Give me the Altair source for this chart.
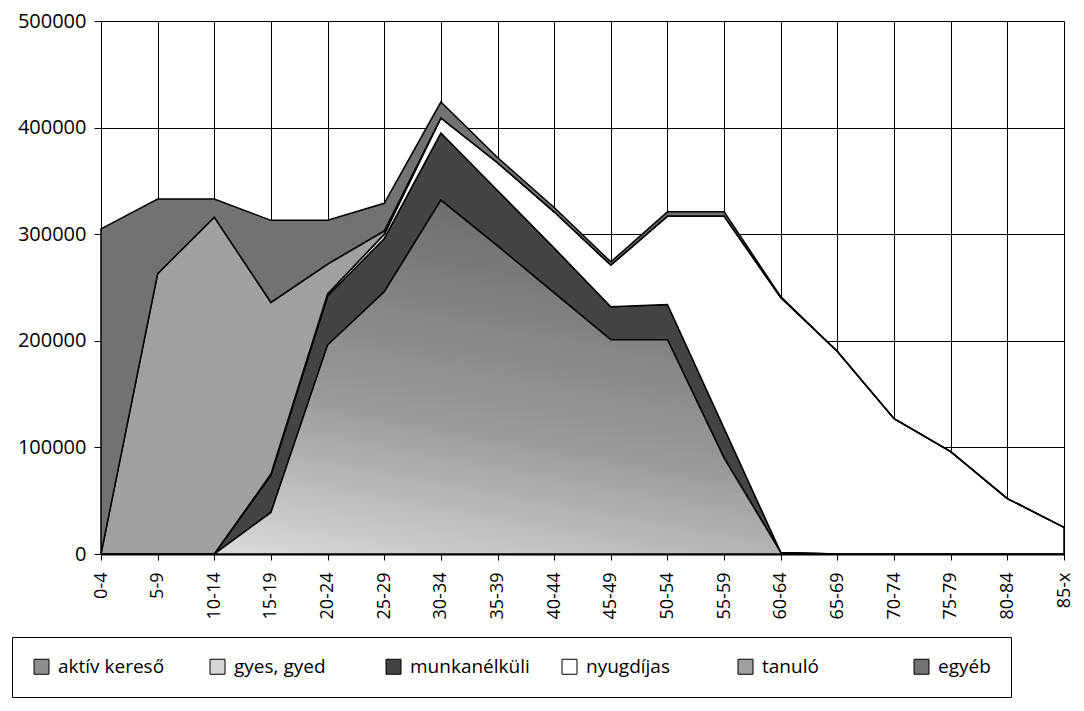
import altair as alt
import pandas as pd

ages = ["0-4", "5-9", "10-14", "15-19", "20-24", "25-29", "30-34", "35-39", "40-44",
        "45-49", "50-54", "55-59", "60-64", "65-69", "70-74", "75-79", "80-84", "85-x"]

aktiv_kereso = [0, 0, 0, 39000, 196000, 246000, 332000, 289000, 245000,
                201000, 201000, 90000, 1500, 0, 0, 0, 0, 0]
gyes_gyed = [0, 0, 0, 0, 0, 0, 0, 0, 0, 0, 0, 0, 0, 0, 0, 0, 0, 0]
munkanelkuli = [0, 0, 0, 35000, 46000, 50000, 63000, 52000, 42000,
                31000, 33000, 28000, 0, 0, 0, 0, 0, 0]
nyugdijas = [0, 0, 0, 1000, 2000, 4000, 14000, 26000, 34000,
             39000, 83000, 199000, 239000, 190000, 127000, 96000, 52000, 25000]
tanulo = [0, 263000, 316000, 161000, 28000, 3000, 0, 0, 0,
          0, 0, 0, 0, 0, 0, 0, 0, 0]
egyeb = [305000, 70000, 17000, 77000, 41000, 26000, 15000, 5000, 4000,
         3000, 4000, 4000, 1000, 0, 0, 0, 0, 0]

statuses = ["aktív kereső", "gyes, gyed", "munkanélküli", "nyugdíjas", "tanuló", "egyéb"]
series = [aktiv_kereso, gyes_gyed, munkanelkuli, nyugdijas, tanulo, egyeb]
colors = ["#8e8e8e", "#d6d6d6", "#444444", "#ffffff", "#a0a0a0", "#727272"]

rows = []
for i, (name, vals) in enumerate(zip(statuses, series)):
    for a, v in zip(ages, vals):
        rows.append({"age": a, "status": name, "value": v, "ord": i})
df = pd.DataFrame(rows)
df_akt = pd.DataFrame({"age": ages, "value": aktiv_kereso})

FONT = "Open Sans"

xaxis = alt.Axis(title=None, labelAngle=-90, labelFontSize=18, labelFont=FONT,
                 labelColor="black", tickSize=6, tickColor="black",
                 domainColor="black", domainWidth=2, grid=True,
                 gridColor="black", gridWidth=1, labelPadding=12)
yaxis = alt.Axis(title=None, values=[0, 100000, 200000, 300000, 400000, 500000],
                 format="d", labelFontSize=20, labelFont=FONT, labelColor="black",
                 tickSize=7, tickColor="black", domainColor="black",
                 grid=True, gridColor="black", gridWidth=1, labelPadding=8)
xscale = alt.Scale(type="point", padding=0)
yscale = alt.Scale(domain=[0, 500000], nice=False)

stacked = alt.Chart(df).mark_area(stroke="black", strokeWidth=1.5, opacity=1).encode(
    x=alt.X("age:N", sort=ages, scale=xscale, axis=xaxis),
    y=alt.Y("value:Q", stack="zero", scale=yscale, axis=yaxis),
    color=alt.Color("status:N",
                    scale=alt.Scale(domain=statuses, range=colors),
                    legend=alt.Legend(title=None, orient="none", legendX=-89, legendY=616,
                                      direction="horizontal", columns=6, gridAlign="all",
                                      columnPadding=30, symbolType="square", symbolSize=225,
                                      symbolStrokeColor="black", symbolStrokeWidth=1,
                                      labelFont=FONT, labelFontSize=19, labelColor="black",
                                      labelOffset=7, strokeColor="black", padding=20)),
    order=alt.Order("ord:Q", sort="ascending"),
)

gradient_fill = {
    "gradient": "linear",
    "x1": 0.1, "y1": 1, "x2": 0.55, "y2": 0.1,
    "stops": [
        {"offset": 0, "color": "#dcdcdc"},
        {"offset": 0.45, "color": "#9a9a9a"},
        {"offset": 1, "color": "#6e6e6e"},
    ],
}

aktiv_layer = alt.Chart(df_akt).mark_area(fill=gradient_fill, stroke="black", strokeWidth=1.5).encode(
    x=alt.X("age:N", sort=ages, scale=xscale, axis=xaxis),
    y=alt.Y("value:Q", stack=None, scale=yscale, axis=yaxis),
)

chart = alt.layer(stacked, aktiv_layer).properties(
    width=963, height=533,
    padding={"left": 93, "top": 13, "right": 12, "bottom": 148},
    autosize="none",
).configure_view(stroke=None).configure(background="white")

chart.save("out.html", embed_options={"renderer": "svg", "actions": False})
